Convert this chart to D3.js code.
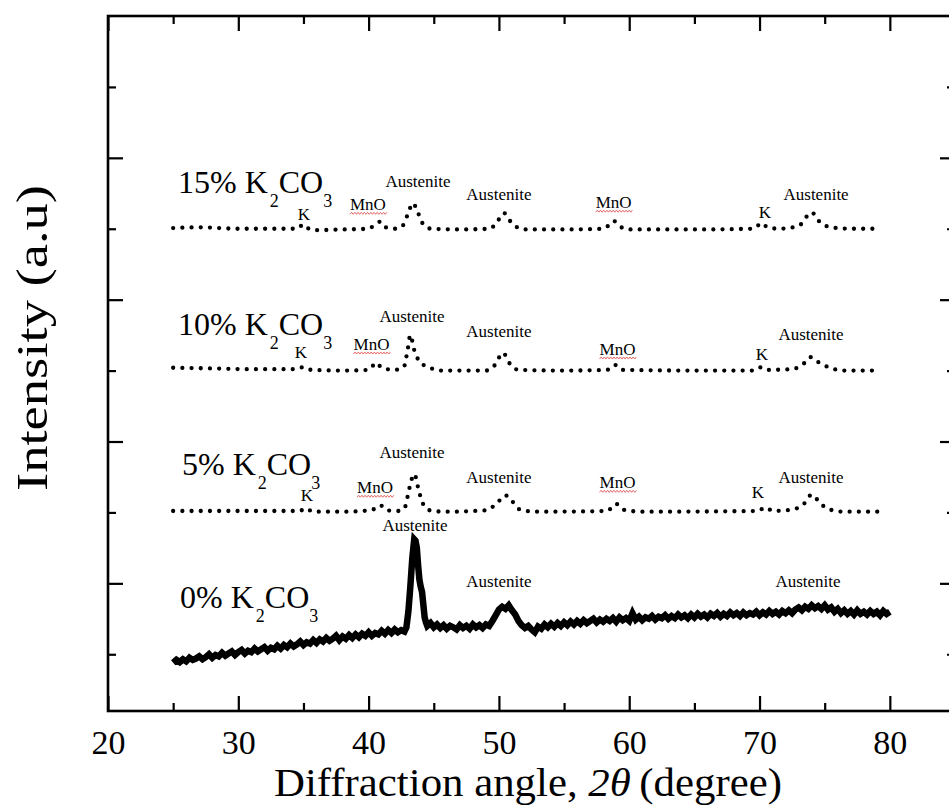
<!DOCTYPE html>
<html>
<head>
<meta charset="utf-8">
<script src="https://cdn.jsdelivr.net/npm/d3@7"></script>
<style>
  body { margin: 0; background: #fff; }
  text { font-family: "Liberation Serif", "Times New Roman", serif; fill: #000; }
</style>
</head>
<body>
<svg id="chart" width="949" height="807"></svg>
<script>
// tick values
const xTicksMajor = [20, 30, 40, 50, 60, 70, 80];
const xTicksMinor = [25, 35, 45, 55, 65, 75];
const yTicksMajor = [2, 4, 6, 8];
const yTicksMinor = [1, 3, 5, 7, 9];

// XRD patterns, [2theta, intensity (a.u, offset)]
const pattern0 = [
  [25.00, 0.88], [25.25, 0.92], [25.50, 0.89], [25.75, 0.93], [26.00, 0.90], [26.25, 0.95], [26.50, 0.92], [26.75, 0.94],
  [27.00, 0.97], [27.25, 0.93], [27.50, 0.96], [27.75, 1.00], [28.00, 0.95], [28.25, 0.99], [28.50, 0.97], [28.75, 1.02],
  [29.00, 0.98], [29.25, 1.01], [29.50, 1.04], [29.75, 0.99], [30.00, 1.03], [30.25, 1.06], [30.50, 1.01], [30.75, 1.05],
  [31.00, 1.03], [31.25, 1.08], [31.50, 1.04], [31.75, 1.07], [32.00, 1.10], [32.25, 1.05], [32.50, 1.09], [32.75, 1.07],
  [33.00, 1.12], [33.25, 1.08], [33.50, 1.13], [33.75, 1.10], [34.00, 1.15], [34.25, 1.11], [34.50, 1.14], [34.75, 1.18],
  [35.00, 1.13], [35.25, 1.17], [35.50, 1.15], [35.75, 1.20], [36.00, 1.16], [36.25, 1.21], [36.50, 1.18], [36.75, 1.23],
  [37.00, 1.19], [37.25, 1.22], [37.50, 1.26], [37.75, 1.20], [38.00, 1.25], [38.25, 1.22], [38.50, 1.27], [38.75, 1.23],
  [39.00, 1.28], [39.25, 1.24], [39.50, 1.29], [39.75, 1.26], [40.00, 1.31], [40.25, 1.26], [40.50, 1.30], [40.75, 1.28],
  [41.00, 1.33], [41.25, 1.29], [41.50, 1.34], [41.75, 1.30], [42.00, 1.35], [42.25, 1.31], [42.50, 1.34], [42.75, 1.32],
  [42.90, 1.38], [43.05, 1.60], [43.20, 1.95], [43.35, 2.35], [43.50, 2.62], [43.60, 2.60], [43.70, 2.50], [43.80, 2.25],
  [43.90, 2.05], [44.00, 1.95], [44.10, 1.88], [44.20, 1.70], [44.30, 1.52], [44.40, 1.45],
  [44.50, 1.40], [44.75, 1.44], [45.00, 1.38], [45.25, 1.42], [45.50, 1.37], [45.75, 1.41], [46.00, 1.36], [46.25, 1.40],
  [46.50, 1.38], [46.75, 1.35], [47.00, 1.41], [47.25, 1.37], [47.50, 1.40], [47.75, 1.36], [48.00, 1.42], [48.25, 1.38],
  [48.50, 1.41], [48.75, 1.37], [49.00, 1.42], [49.25, 1.40], [49.50, 1.47], [49.75, 1.55], [50.00, 1.63], [50.25, 1.67],
  [50.50, 1.64], [50.75, 1.69], [51.00, 1.62], [51.25, 1.56], [51.50, 1.47], [51.75, 1.41], [52.00, 1.37], [52.25, 1.40],
  [52.50, 1.35], [52.75, 1.31], [53.00, 1.39], [53.25, 1.36], [53.50, 1.42], [53.75, 1.38], [54.00, 1.43], [54.25, 1.39],
  [54.50, 1.44], [54.75, 1.40], [55.00, 1.45], [55.25, 1.41], [55.50, 1.46], [55.75, 1.42], [56.00, 1.47], [56.25, 1.43],
  [56.50, 1.48], [56.75, 1.44], [57.00, 1.47], [57.25, 1.50], [57.50, 1.45], [57.75, 1.49], [58.00, 1.46], [58.25, 1.50],
  [58.50, 1.47], [58.75, 1.51], [59.00, 1.46], [59.25, 1.52], [59.50, 1.48], [59.75, 1.51], [60.00, 1.47], [60.25, 1.58],
  [60.50, 1.49], [60.75, 1.53], [61.00, 1.48], [61.25, 1.52], [61.50, 1.50], [61.75, 1.54], [62.00, 1.49], [62.25, 1.53],
  [62.50, 1.51], [62.75, 1.55], [63.00, 1.50], [63.25, 1.54], [63.50, 1.51], [63.75, 1.56], [64.00, 1.52], [64.25, 1.55],
  [64.50, 1.51], [64.75, 1.56], [65.00, 1.52], [65.25, 1.57], [65.50, 1.53], [65.75, 1.56], [66.00, 1.52], [66.25, 1.57],
  [66.50, 1.54], [66.75, 1.58], [67.00, 1.53], [67.25, 1.57], [67.50, 1.54], [67.75, 1.59], [68.00, 1.55], [68.25, 1.58],
  [68.50, 1.54], [68.75, 1.59], [69.00, 1.55], [69.25, 1.58], [69.50, 1.56], [69.75, 1.60], [70.00, 1.55], [70.25, 1.59],
  [70.50, 1.56], [70.75, 1.61], [71.00, 1.57], [71.25, 1.60], [71.50, 1.56], [71.75, 1.61], [72.00, 1.58], [72.25, 1.62],
  [72.50, 1.58], [72.75, 1.63], [73.00, 1.66], [73.25, 1.62], [73.50, 1.67], [73.75, 1.64], [74.00, 1.69], [74.25, 1.65],
  [74.50, 1.68], [74.75, 1.64], [75.00, 1.69], [75.25, 1.63], [75.50, 1.66], [75.75, 1.60], [76.00, 1.64], [76.25, 1.58],
  [76.50, 1.62], [76.75, 1.57], [77.00, 1.61], [77.25, 1.56], [77.50, 1.62], [77.75, 1.57], [78.00, 1.60], [78.25, 1.56],
  [78.50, 1.61], [78.75, 1.57], [79.00, 1.60], [79.25, 1.55], [79.50, 1.61], [79.75, 1.57], [80.00, 1.60]
];

const pattern5 = [
  [25, 3.02], [30, 3.02], [34.7, 3.02], [35.2, 3.06], [35.7, 3.01], [38, 3.01],
  [40.2, 3.03], [40.9, 3.10], [41.4, 3.03], [42.3, 3.02], [42.8, 3.08], [43.1, 3.32],
  [43.5, 3.54], [43.9, 3.27], [44.3, 3.08], [44.9, 3.02], [46, 3.01], [49, 3.03],
  [49.8, 3.12], [50.5, 3.24], [51.0, 3.16], [51.7, 3.03], [53, 3.01], [58.3, 3.02],
  [59.0, 3.12], [59.5, 3.04], [61, 3.01], [69.8, 3.02], [70.5, 3.07], [71.0, 3.02],
  [72.5, 3.04], [73.4, 3.12], [74.0, 3.25], [74.7, 3.12], [75.4, 3.04], [76.5, 3.01],
  [79.6, 3.01]
];

const pattern10 = [
  [25, 5.04], [28, 5.03], [31, 5.02], [34.5, 5.02], [35.0, 5.05], [35.6, 5.01],
  [38, 5.00], [40, 5.01], [40.6, 5.11], [41.0, 5.04], [42, 5.01], [42.7, 5.05],
  [43.0, 5.30], [43.2, 5.50], [43.5, 5.29], [43.9, 5.13], [44.7, 5.04], [45.5, 5.00],
  [49, 5.00], [49.7, 5.08], [50.3, 5.25], [50.9, 5.08], [51.5, 5.01], [55, 5.00],
  [58.3, 5.01], [58.9, 5.08], [59.4, 5.01], [65, 5.00], [69.5, 5.00], [70.2, 5.05],
  [70.7, 5.01], [72.5, 5.02], [73.4, 5.10], [73.9, 5.19], [74.5, 5.12], [75.4, 5.04],
  [76.5, 5.00], [79.2, 5.00]
];

const pattern15 = [
  [25, 7.01], [27, 7.02], [30, 7.00], [33, 7.00], [34.5, 7.00], [35.0, 7.06],
  [35.5, 6.99], [36, 6.98], [38, 6.99], [40, 7.00], [40.5, 7.06], [40.9, 7.10],
  [41.3, 7.02], [42, 7.00], [42.6, 7.04], [43.0, 7.20], [43.4, 7.36], [43.8, 7.22],
  [44.2, 7.06], [44.8, 7.00], [47, 6.99], [49.3, 7.00], [49.8, 7.08], [50.4, 7.22],
  [50.9, 7.10], [51.4, 7.02], [52, 6.99], [55, 6.99], [58, 7.00], [58.5, 7.06],
  [58.8, 7.11], [59.3, 7.03], [60, 6.99], [65, 6.99], [69.5, 7.00], [70.2, 7.08],
  [70.6, 7.02], [71.5, 7.00], [73, 7.04], [74, 7.23], [74.6, 7.10], [75.5, 7.02],
  [77, 7.00], [79.3, 7.00]
];

// sample names and where their label sits (2theta, intensity)
const sampleNames = ["0%", "5%", "10%", "15%"];
const sampleLabelAt = [[25.53, 1.65], [25.68, 3.53], [25.37, 5.50], [25.37, 7.50]];

// phase labels: [phase, 2theta, intensity]
const peaks0 = [["Austenite", 43.56, 2.74], ["Austenite", 50.0, 1.95], ["Austenite", 73.72, 1.95]];
const peaks5 = [["K", 35.27, 3.16], ["MnO", 40.49, 3.27], ["Austenite", 43.33, 3.77], ["Austenite", 50.0, 3.41],
                ["MnO", 59.1, 3.34], ["K", 69.88, 3.20], ["Austenite", 73.95, 3.41]];
const peaks10 = [["K", 34.81, 5.18], ["MnO", 40.22, 5.29], ["Austenite", 43.33, 5.68], ["Austenite", 50.0, 5.47],
                 ["MnO", 59.1, 5.22], ["K", 70.19, 5.15], ["Austenite", 73.95, 5.43]];
const peaks15 = [["K", 35.04, 7.12], ["MnO", 39.95, 7.26], ["Austenite", 43.79, 7.59], ["Austenite", 50.0, 7.41],
                 ["MnO", 58.8, 7.29], ["K", 70.42, 7.15], ["Austenite", 74.34, 7.41]];

const svg = d3.select("#chart");

const x = d3.scaleLinear().domain([20, 85]).range([108, 955]);
const y = d3.scaleLinear().domain([0.2, 10]).range([711, 16]);

function tickAxis(axis, values, size, labels) {
  return axis.tickValues(values).tickSize(-size).tickPadding(19)
    .tickFormat(labels ? d3.format("d") : "");
}

const axisGroups = [
  [d3.axisBottom(x), `translate(0,${y(0.2)})`, xTicksMajor, 15, true],
  [d3.axisBottom(x), `translate(0,${y(0.2)})`, xTicksMinor, 8, false],
  [d3.axisTop(x), `translate(0,${y(10)})`, xTicksMajor, 15, false],
  [d3.axisTop(x), `translate(0,${y(10)})`, xTicksMinor, 8, false],
  [d3.axisLeft(y), `translate(${x(20)},0)`, yTicksMajor, 15, false],
  [d3.axisLeft(y), `translate(${x(20)},0)`, yTicksMinor, 8, false],
  [d3.axisRight(y), `translate(${x(85)},0)`, yTicksMajor, 15, false],
  [d3.axisRight(y), `translate(${x(85)},0)`, yTicksMinor, 8, false]
];

axisGroups.forEach(([axis, tr, vals, size, labels]) => {
  const g = svg.append("g").attr("transform", tr)
    .call(tickAxis(axis, vals, size, labels));
  g.select(".domain").remove();
  g.selectAll(".tick line").attr("stroke", "#000").attr("stroke-width", 2.2);
  g.selectAll(".tick text")
    .attr("font-family", "Liberation Serif, Times New Roman, serif")
    .attr("font-size", 34)
    .attr("fill", "#000");
});

// frame
svg.append("rect")
  .attr("x", x(20)).attr("y", y(10))
  .attr("width", x(85) - x(20)).attr("height", y(0.2) - y(10))
  .attr("fill", "none").attr("stroke", "#000").attr("stroke-width", 2.6);

// axis titles
svg.append("text")
  .attr("transform", "translate(47,338) rotate(-90)")
  .attr("text-anchor", "middle")
  .attr("font-size", 44)
  .attr("textLength", 306)
  .attr("lengthAdjust", "spacingAndGlyphs")
  .text("Intensity (a.u)");

const xTitle = svg.append("text")
  .attr("x", 528).attr("y", 796)
  .attr("text-anchor", "middle")
  .attr("font-size", 39)
  .attr("textLength", 508)
  .attr("lengthAdjust", "spacingAndGlyphs");
xTitle.append("tspan").text("Diffraction angle, ");
xTitle.append("tspan").attr("font-style", "italic").text("2\u03B8");
xTitle.append("tspan").text("\u2009(degree)");

const line = d3.line().x(d => x(d[0])).y(d => y(d[1]));

// 0% pattern: solid noisy trace
svg.append("path")
  .datum(pattern0)
  .attr("d", line)
  .attr("fill", "none")
  .attr("stroke", "#000")
  .attr("stroke-width", 6.5)
  .attr("stroke-linejoin", "miter");

// doped patterns: dotted traces
const dotted = d3.line().x(d => x(d[0])).y(d => y(d[1])).curve(d3.curveMonotoneX);
[pattern5, pattern10, pattern15].forEach(p => {
  svg.append("path")
    .datum(p)
    .attr("d", dotted)
    .attr("fill", "none")
    .attr("stroke", "#000")
    .attr("stroke-width", 4.3)
    .attr("stroke-linecap", "round")
    .attr("stroke-dasharray", "0 9.2");
});

// sample labels
sampleNames.forEach((name, i) => {
  const [lx, ly] = sampleLabelAt[i];
  const t = svg.append("text")
    .attr("x", x(lx)).attr("y", y(ly))
    .attr("font-size", 32);
  t.append("tspan").text(name + " K");
  t.append("tspan").attr("font-size", 18).attr("dy", 14).attr("dx", 2).text("2");
  t.append("tspan").attr("dy", -14).text("CO");
  t.append("tspan").attr("font-size", 18).attr("dy", 14).text("3");
});

// phase labels
[peaks0, peaks5, peaks10, peaks15].forEach(list => {
  list.forEach(([phase, px, py]) => {
    const t = svg.append("text")
      .attr("x", x(px)).attr("y", y(py))
      .attr("text-anchor", "middle")
      .attr("font-size", 17)
      .text(phase);
    if (phase === "MnO") {
      // red wavy spell-check underline
      const b = t.node().getBBox();
      const base = y(py) + 3;
      const pts = [];
      for (let k = 0; b.x + k * 1.6 <= b.x + b.width + 2; k++) {
        pts.push([b.x + k * 1.6, base + (k % 2 ? -1 : 1)]);
      }
      svg.append("path")
        .attr("d", d3.line()(pts))
        .attr("fill", "none")
        .attr("stroke", "#e05555")
        .attr("stroke-width", 0.9);
    }
  });
});
</script>
</body>
</html>
